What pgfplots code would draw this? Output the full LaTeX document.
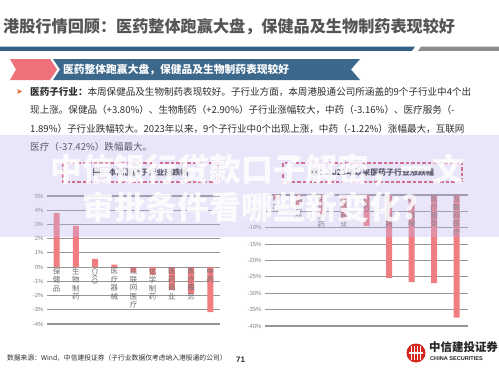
\documentclass[border=0pt]{standalone}
\usepackage{pgfplots}
\pgfplotsset{compat=1.18}
\usepackage{fontspec}
\setmainfont{Liberation Sans}
\newfontfamily\cjk{Noto Sans CJK SC}
\newfontfamily\dejavu{DejaVu Sans}
\definecolor{barpink}{RGB}{242,125,128}
\definecolor{hdrblue}{RGB}{52,96,134}
\definecolor{bannerblue}{RGB}{60,104,140}
\definecolor{bannerpink}{RGB}{238,112,122}
\definecolor{gridgray}{RGB}{150,150,150}
\definecolor{ticktext}{RGB}{130,130,130}
\definecolor{labgray}{RGB}{110,110,110}
\definecolor{bandcol}{RGB}{190,180,240}
\definecolor{boxred}{RGB}{224,80,96}
\definecolor{bodytext}{RGB}{45,45,45}
\definecolor{titlegray}{RGB}{85,85,85}
\definecolor{logored}{RGB}{215,38,30}
\pgfplotsset{mybar/.style={scale only axis, anchor=south west,
  axis line style={draw=none}, major tick length=0pt, xtick=\empty,
  ymajorgrids, grid style={gridgray, line width=1.1bp},
  yticklabel style={font=\fontsize{6}{7}\selectfont, color=ticktext},
  yticklabel={\pgfmathprintnumber{\tick}\%},
  /pgf/number format/assume math mode=true,
  xmin=-0.5, xmax=8.5, clip=false, ybar, bar width=6bp}}
\tikzset{catlab/.style={anchor=north, align=center, inner sep=0.8bp, text=labgray,
  font=\cjk\fontsize{7.5}{8.4}\selectfont}}
\begin{document}
\begin{tikzpicture}
\path[use as bounding box, fill=white] (0,0) rectangle (499bp,-375bp);
\begin{scope}[x=1bp,y=-1bp]
% header
\node[anchor=west, inner sep=0, text=titlegray, font=\cjk\bfseries\fontsize{16.2}{18}\selectfont] at (3,27) {港股行情回顾：医药整体跑赢大盘，保健品及生物制药表现较好};
\fill[hdrblue] (0,46.7) -- (415,46.7) -- (412,50.8) -- (0,50.8) -- cycle;
\fill[gray!90] (421,46.7) -- (499,46.7) -- (499,50.8) -- (418,50.8) -- cycle;
% banner
\fill[bannerpink] (10,59) -- (50,59) -- (57,69.5) -- (50,80) -- (10,80) -- (16,69.5) -- cycle;
\fill[bannerblue] (53,59) -- (360,59) -- (351,69.5) -- (360,80) -- (53,80) -- (60,69.5) -- cycle;
\node[anchor=west, inner sep=0, text=white, font=\cjk\bfseries\fontsize{10.8}{12}\selectfont] at (63,70) {医药整体跑赢大盘，保健品及生物制药表现较好};
% bullet text
\node[anchor=west, inner sep=0, text={rgb,255:red,232;green,100;blue,50}, font=\dejavu\fontsize{8}{9}\selectfont] at (16,92) {➤};
\begin{scope}[every node/.style={anchor=west, inner sep=0, text=bodytext, font=\cjk\fontsize{9.6}{11}\selectfont}]
\node at (30,92) {{\bfseries 医药子行业：}本周保健品及生物制药表现较好。子行业方面，本周港股通公司所涵盖的9个子行业中4个出};
\node at (30,110) {现上涨。保健品（+3.80\%）、生物制药（+2.90\%）子行业涨幅较大，中药（-3.16\%）、医疗服务（-};
\node at (30,128.5) {1.89\%）子行业跌幅较大。2023年以来，9个子行业中0个出现上涨，中药（-1.22\%）涨幅最大，互联网};
\node at (30,147) {医疗（-37.42\%）跌幅最大。};
\end{scope}
% chart title boxes
\draw[boxred, line width=1.1bp, dash pattern=on 3.5bp off 2bp, fill=white] (63,163) rectangle (218,182);
\node[inner sep=0, text=bodytext, font=\cjk\bfseries\fontsize{8}{9}\selectfont] at (140.5,172.5) {图：本周医药子行业涨跌幅};
\draw[boxred, line width=1.1bp, dash pattern=on 3.5bp off 2bp, fill=white] (283,163) rectangle (462,182);
\node[inner sep=0, text=bodytext, font=\cjk\bfseries\fontsize{8}{9}\selectfont] at (372.5,172.5) {图：2023年以来医药子行业涨跌幅};
\end{scope}
% left chart
\begin{axis}[mybar, at={(47bp,-324bp)}, width=173bp, height=128bp,
  ymin=-4, ymax=5, ytick={-4,-3,...,5}]
\addplot[fill=barpink, draw=none] coordinates {(0,3.80) (1,2.90) (2,0.58) (3,0.18) (4,-0.38) (5,-0.55) (6,-1.60) (7,-1.89) (8,-3.16)};
\node[catlab] at (axis cs:0,0) {保\\健\\品};
\node[catlab] at (axis cs:1,0) {生\\物\\制\\药};
\node[anchor=west, rotate=-90, inner sep=0.8bp, text=labgray, font=\fontsize{7.5}{8.4}\selectfont] at (axis cs:2,0) {CXO};
\node[catlab] at (axis cs:3,0) {医\\疗\\器\\械};
\node[catlab] at (axis cs:4,0) {互\\联\\网\\医\\疗};
\node[catlab] at (axis cs:5,0) {化\\学\\制\\药};
\node[catlab] at (axis cs:6,0) {医\\药\\商\\业};
\node[catlab] at (axis cs:7,0) {医\\疗\\服\\务};
\node[catlab] at (axis cs:8,0) {中\\药};
\end{axis}
% right chart
\begin{axis}[mybar, at={(265bp,-326bp)}, width=203bp, height=131bp,
  ymin=-40, ymax=0, ytick={-40,-35,...,0}]
\addplot[fill=barpink, draw=none] coordinates {(0,-1.22) (1,-3.5) (2,-6.0) (3,-8.0) (4,-9.5) (5,-25.3) (6,-26.6) (7,-26.9) (8,-37.42)};
\node[catlab] at (axis cs:0,0) {中\\药};
\node[catlab] at (axis cs:1,0) {保\\健\\品};
\node[catlab] at (axis cs:2,0) {生\\物\\制\\药};
\node[catlab] at (axis cs:3,0) {医\\药\\商\\业};
\node[anchor=west, rotate=-90, inner sep=0.8bp, text=labgray, font=\fontsize{7.5}{8.4}\selectfont] at (axis cs:4,0) {CXO};
\node[catlab] at (axis cs:5,0) {化\\学\\制\\药};
\node[catlab] at (axis cs:6,0) {医\\疗\\器\\械};
\node[catlab] at (axis cs:7,0) {医\\疗\\服\\务};
\node[catlab] at (axis cs:8,0) {互\\联\\网\\医\\疗};
\end{axis}
\begin{scope}[x=1bp,y=-1bp]
% watermark band
\fill[bandcol, opacity=0.33] (0,135) rectangle (499,237);
\node[anchor=west, inner sep=0, text=white, opacity=0.85, font=\cjk\bfseries\fontsize{32}{34}\selectfont] at (50,170) {中信银行贷款口子解密，一文};
\node[anchor=west, inner sep=0, text=white, opacity=0.85, font=\cjk\bfseries\fontsize{32}{34}\selectfont] at (82,207) {审批条件看哪些新变化?};
% footer
\node[anchor=west, inner sep=0, text=bodytext, font=\cjk\fontsize{6.8}{8}\selectfont] at (7,358) {数据来源：Wind，中信建投证券（子行业数据仅考虑纳入港股通的公司）};
\node[anchor=west, inner sep=0, text=bodytext, font=\bfseries\fontsize{8}{9}\selectfont] at (236,360) {71};
% logo
\fill[logored] (416,353) circle (9.5);
\foreach \dx in {-4.5,-1.5,1.5,4.5} {\draw[white, line width=1.1bp] (416+\dx,346) -- (416+\dx,360);}
\draw[white, line width=1.1bp] (409,353) -- (423,353);
\node[anchor=west, inner sep=0, text=black!85, font=\cjk\bfseries\fontsize{11.5}{13}\selectfont] at (429,347) {中信建投证券};
\node[anchor=west, inner sep=0, text=black!85, font=\bfseries\fontsize{5.6}{6.5}\selectfont] at (430,359) {CHINA SECURITIES};
\end{scope}
\end{tikzpicture}
\end{document}
